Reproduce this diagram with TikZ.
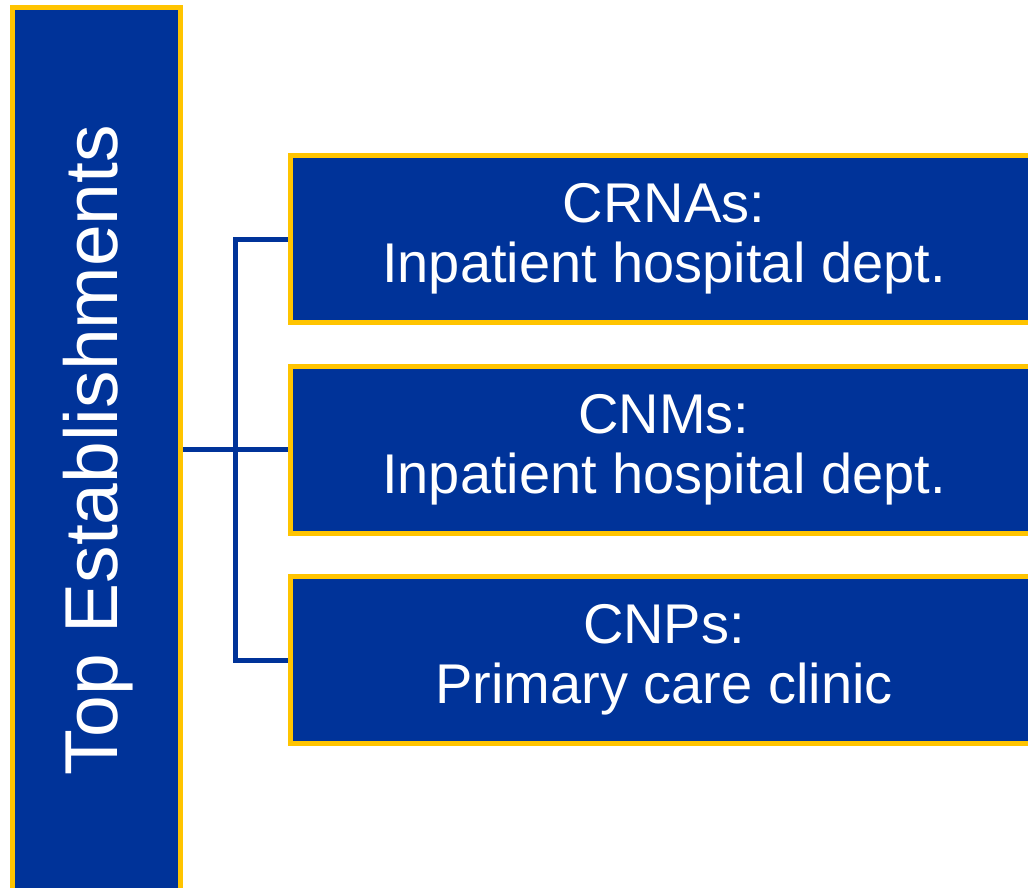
\documentclass[tikz,border=0pt]{standalone}
\usepackage{fontspec}
\setmainfont{Liberation Sans}
\usetikzlibrary{backgrounds}
\definecolor{boxblue}{HTML}{003399}
\definecolor{boxgold}{HTML}{FFC400}
\begin{document}
\begin{tikzpicture}[x=1pt,y=-1pt,
  bluebox/.style={draw=boxgold, fill=boxblue, line width=5pt, inner sep=0pt, text=white},
  itembox/.style={bluebox, minimum width=747pt, minimum height=167pt,
     font=\fontsize{56}{60}\selectfont, align=center},
  bus/.style={draw=boxblue, line width=5pt}]
\useasboundingbox (0,0) rectangle (1028,887);
\node[bluebox, minimum width=168pt, minimum height=890pt] (left) at (96.5,452.5) {};
\node[text=white, rotate=90, font=\fontsize{75}{80}\selectfont, inner sep=0pt] (lefttext) at (98,450) {Top Establishments};
\node[itembox] (crna) at (664,239) {CRNAs:\\Inpatient hospital dept.};
\node[itembox] (cnm) at (664,449.5) {CNMs:\\Inpatient hospital dept.};
\node[itembox] (cnp) at (664,660) {CNPs:\\Primary care clinic};
\coordinate (bustop) at (235,239);
\begin{scope}[on background layer]
\draw[bus] (crna.west) -- (bustop) |- (cnp.west);
\draw[bus] (left.east |- cnm.west) -- (cnm.west);
\end{scope}
\end{tikzpicture}
\end{document}
